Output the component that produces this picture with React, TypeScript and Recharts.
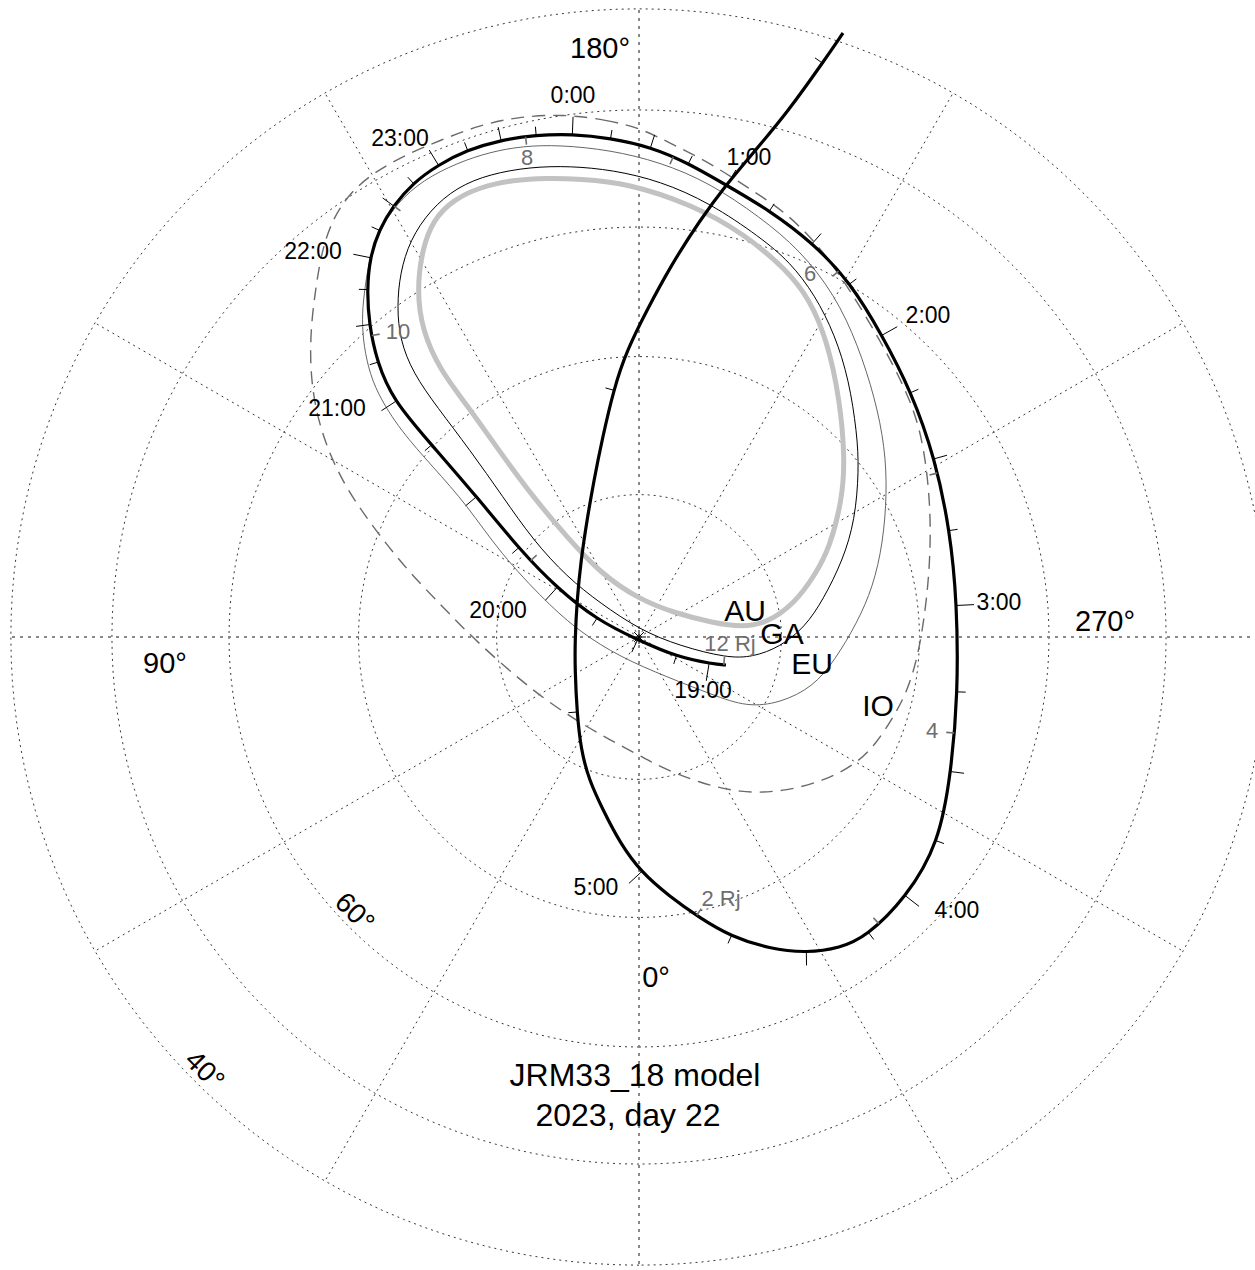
import { Scatter, ScatterChart, XAxis, YAxis } from "recharts";

type Pt = { x: number; y: number };
type TrackPt = Pt & { m?: "q" | "h" | "H" };
type Label = Pt & { text: string };

// plot units: pixels east / north of the pole in the projected frame
const W = 1255;
const H = 1270;
const X_DOMAIN: [number, number] = [-639, 616];
const Y_DOMAIN: [number, number] = [-633, 637];
const FONT = "'Liberation Sans', Arial, Helvetica, sans-serif";

// orthographic graticule
const SPHERE_R = 820;
const latCircles = [80, 70, 60, 50, 40];
const meridians = [0, 30, 60, 90, 120, 150, 180, 210, 240, 270, 300, 330];

// Juno footprint, 18:56 -> 5:47 (m: q = 15 min, h = 30 min, H = hour)
const track: TrackPt[] = [
  { x: 87, y: -28 },
  { x: 74, y: -27, m: "H" },
  { x: 38, y: -20, m: "q" },
  { x: -1, y: -3, m: "h" },
  { x: -42, y: 17, m: "q" },
  { x: -82, y: 49, m: "H" },
  { x: -119, y: 87, m: "q" },
  { x: -162, y: 140, m: "h" },
  { x: -209, y: 194, m: "q" },
  { x: -246, y: 237, m: "H" },
  { x: -262, y: 275, m: "q" },
  { x: -270, y: 313, m: "h" },
  { x: -272, y: 348, m: "q" },
  { x: -269, y: 380, m: "H" },
  { x: -260, y: 407, m: "q" },
  { x: -246, y: 431, m: "h" },
  { x: -226, y: 454, m: "q" },
  { x: -201, y: 472, m: "H" },
  { x: -172, y: 487, m: "q" },
  { x: -138, y: 497, m: "h" },
  { x: -103, y: 502, m: "q" },
  { x: -67, y: 503, m: "H" },
  { x: -29, y: 499, m: "q" },
  { x: 12, y: 490, m: "h" },
  { x: 49, y: 474, m: "q" },
  { x: 87, y: 452, m: "H" },
  { x: 130, y: 427, m: "q" },
  { x: 174, y: 394, m: "h" },
  { x: 211, y: 355, m: "q" },
  { x: 243, y: 302, m: "H" },
  { x: 272, y: 246, m: "q" },
  { x: 296, y: 179, m: "h" },
  { x: 311, y: 106, m: "q" },
  { x: 318, y: 35, m: "H" },
  { x: 319, y: -57, m: "q" },
  { x: 312, y: -136, m: "h" },
  { x: 300, y: -206, m: "q" },
  { x: 267, y: -261, m: "H" },
  { x: 227, y: -300, m: "q" },
  { x: 201, y: -311 },
  { x: 168, y: -316, m: "h" },
  { x: 131, y: -312 },
  { x: 91, y: -299, m: "q" },
  { x: 61, y: -281 },
  { x: 30, y: -259 },
  { x: 2, y: -235, m: "H" },
  { x: -19, y: -206 },
  { x: -36, y: -173 },
  { x: -50, y: -143 },
  { x: -58, y: -113 },
  { x: -62, y: -76, m: "q" },
  { x: -64, y: -33 },
  { x: -64, y: -3 },
  { x: -62, y: 37 },
  { x: -58, y: 77 },
  { x: -52, y: 117 },
  { x: -45, y: 157 },
  { x: -37, y: 197 },
  { x: -25, y: 249, m: "q" },
  { x: -12, y: 287 },
  { x: 8, y: 327 },
  { x: 31, y: 370 },
  { x: 61, y: 417 },
  { x: 87, y: 452 },
  { x: 114, y: 484 },
  { x: 148, y: 524 },
  { x: 187, y: 579, m: "q" },
  { x: 204, y: 604 },
];

// radial distance marks along the track (12 Rj .. 2 Rj)
const rjMarks: Pt[] = [
  { x: 87, y: -28 },
  { x: -104, y: 80 },
  { x: -269, y: 300 },
  { x: -245, y: 432 },
  { x: -115, y: 501 },
  { x: 36, y: 480 },
  { x: 201, y: 367 },
  { x: 299, y: 167 },
  { x: 316, y: -96 },
  { x: 241, y: -285 },
  { x: 58, y: -280 },
];

// moon footprint ovals
const auroraOval: Pt[] = [
  { x: -92, y: 459 }, { x: -59, y: 458 }, { x: -12, y: 454 }, { x: 54, y: 432 },
  { x: 104, y: 404 }, { x: 148, y: 367 }, { x: 171, y: 337 }, { x: 188, y: 297 },
  { x: 201, y: 237 }, { x: 206, y: 177 }, { x: 203, y: 137 }, { x: 191, y: 90 },
  { x: 176, y: 62 }, { x: 156, y: 34 }, { x: 128, y: 14 }, { x: 104, y: 10 },
  { x: 74, y: 14 }, { x: 36, y: 24 }, { x: 1, y: 37 }, { x: -39, y: 64 },
  { x: -72, y: 100 }, { x: -106, y: 140 }, { x: -139, y: 185 }, { x: -172, y: 232 },
  { x: -199, y: 267 }, { x: -217, y: 307 }, { x: -222, y: 347 }, { x: -217, y: 387 },
  { x: -206, y: 417 }, { x: -186, y: 437 }, { x: -159, y: 450 }, { x: -126, y: 457 },
];

const ganymedeOval: Pt[] = [
  { x: -69, y: 471 }, { x: -26, y: 467 }, { x: 21, y: 456 }, { x: 71, y: 434 },
  { x: 121, y: 400 }, { x: 151, y: 375 }, { x: 176, y: 342 }, { x: 196, y: 302 },
  { x: 210, y: 257 }, { x: 218, y: 204 }, { x: 220, y: 167 }, { x: 216, y: 117 },
  { x: 204, y: 77 }, { x: 184, y: 37 }, { x: 166, y: 10 }, { x: 141, y: -10 },
  { x: 114, y: -20 }, { x: 88, y: -21 }, { x: 41, y: -9 }, { x: 1, y: 7 },
  { x: -39, y: 34 }, { x: -72, y: 60 }, { x: -106, y: 97 }, { x: -136, y: 140 },
  { x: -169, y: 187 }, { x: -202, y: 230 }, { x: -226, y: 264 }, { x: -239, y: 297 },
  { x: -242, y: 330 }, { x: -239, y: 364 }, { x: -229, y: 397 }, { x: -209, y: 427 },
  { x: -182, y: 450 }, { x: -149, y: 463 }, { x: -109, y: 470 },
];

const europaOval: Pt[] = [
  { x: -79, y: 492 }, { x: -29, y: 487 }, { x: 21, y: 475 }, { x: 71, y: 454 },
  { x: 121, y: 420 }, { x: 161, y: 387 }, { x: 196, y: 342 }, { x: 219, y: 292 },
  { x: 236, y: 239 }, { x: 246, y: 190 }, { x: 248, y: 144 }, { x: 244, y: 94 },
  { x: 234, y: 50 }, { x: 218, y: 14 }, { x: 196, y: -23 }, { x: 174, y: -50 },
  { x: 141, y: -66 }, { x: 108, y: -70 }, { x: 74, y: -58 }, { x: 28, y: -40 },
  { x: -19, y: -20 }, { x: -59, y: 5 }, { x: -92, y: 34 }, { x: -139, y: 84 },
  { x: -172, y: 132 }, { x: -206, y: 170 }, { x: -239, y: 207 }, { x: -262, y: 244 },
  { x: -271, y: 270 }, { x: -276, y: 297 }, { x: -277, y: 324 }, { x: -274, y: 350 },
  { x: -269, y: 382 }, { x: -258, y: 409 }, { x: -242, y: 434 }, { x: -216, y: 457 },
  { x: -182, y: 474 }, { x: -149, y: 485 }, { x: -116, y: 491 },
];

const ioOval: Pt[] = [
  { x: -76, y: 523 }, { x: -32, y: 517 }, { x: 1, y: 509 }, { x: 31, y: 494 },
  { x: 71, y: 474 }, { x: 108, y: 450 }, { x: 148, y: 424 }, { x: 181, y: 390 },
  { x: 211, y: 347 }, { x: 241, y: 297 }, { x: 266, y: 249 }, { x: 281, y: 210 },
  { x: 289, y: 160 }, { x: 292, y: 110 }, { x: 290, y: 60 }, { x: 285, y: 17 },
  { x: 279, y: -18 }, { x: 269, y: -53 }, { x: 254, y: -81 }, { x: 236, y: -108 },
  { x: 218, y: -126 }, { x: 188, y: -143 }, { x: 144, y: -155 }, { x: 101, y: -156 },
  { x: 61, y: -146 }, { x: 21, y: -130 }, { x: 0, y: -118 }, { x: -37, y: -99 },
  { x: -91, y: -66 }, { x: -141, y: -24 }, { x: -174, y: 7 }, { x: -199, y: 33 },
  { x: -231, y: 66 }, { x: -263, y: 106 }, { x: -292, y: 147 }, { x: -312, y: 188 },
  { x: -324, y: 229 }, { x: -329, y: 270 }, { x: -328, y: 312 }, { x: -323, y: 351 },
  { x: -317, y: 387 }, { x: -306, y: 419 }, { x: -289, y: 444 }, { x: -266, y: 464 },
  { x: -234, y: 482 }, { x: -198, y: 497 }, { x: -159, y: 512 }, { x: -122, y: 520 },
];

const hourLabels: Label[] = [
  { x: 64, y: -53, text: "19:00" },
  { x: -141, y: 27, text: "20:00" },
  { x: -302, y: 229, text: "21:00" },
  { x: -326, y: 386, text: "22:00" },
  { x: -239, y: 499, text: "23:00" },
  { x: -66, y: 542, text: "0:00" },
  { x: 110, y: 480, text: "1:00" },
  { x: 289, y: 322, text: "2:00" },
  { x: 360, y: 35, text: "3:00" },
  { x: 318, y: -273, text: "4:00" },
  { x: -43, y: -250, text: "5:00" },
];

const rjLabels: Label[] = [
  { x: 91, y: -6, text: "12 Rj" },
  { x: -241, y: 306, text: "10" },
  { x: -112, y: 480, text: "8" },
  { x: 171, y: 364, text: "6" },
  { x: 293, y: -93, text: "4" },
  { x: 82, y: -261, text: "2 Rj" },
];

const moonLabels: Label[] = [
  { x: 106, y: 27, text: "AU" },
  { x: 143, y: 4, text: "GA" },
  { x: 173, y: -26, text: "EU" },
  { x: 239, y: -68, text: "IO" },
];

const lonLabels: Label[] = [
  { x: -39, y: 589, text: "180°" },
  { x: 466, y: 16, text: "270°" },
  { x: 17, y: -340, text: "0°" },
  { x: -474, y: -26, text: "90°" },
];

const latLabels: Label[] = [
  { x: -284, y: -275, text: "60°" },
  { x: -434, y: -433, text: "40°" },
];

const titleLines: Label[] = [
  { x: -4, y: -438, text: "JRM33_18 model" },
  { x: -11, y: -478, text: "2023, day 22" },
];

const pole: Pt[] = [{ x: 0, y: 0 }];

// ---------- derived geometry ----------
const rad = (d: number) => (d * Math.PI) / 180;

const ringPoints = (lat: number): Pt[] => {
  const r = SPHERE_R * Math.cos(rad(lat));
  const pts: Pt[] = [];
  for (let lon = 0; lon <= 360; lon += 2) {
    pts.push({ x: -r * Math.sin(rad(lon)), y: -r * Math.cos(rad(lon)) });
  }
  return pts;
};

const meridianPoints = (lon: number): Pt[] => {
  const r = SPHERE_R * Math.cos(rad(latCircles[latCircles.length - 1]));
  return [
    { x: 0, y: 0 },
    { x: -r * Math.sin(rad(lon)), y: -r * Math.cos(rad(lon)) },
  ];
};

// sample the uniform cubic B-spline that the "basis" curve draws through the track
const at = (i: number) => track[Math.max(0, Math.min(track.length - 1, i))];
type Sample = Pt & { tx: number; ty: number };
const samples: Sample[] = [];
for (let i = 0; i < track.length; i++) {
  for (let s = 0; s < 10; s++) {
    const t = s / 10;
    const p0 = at(i - 1), p1 = at(i), p2 = at(i + 1), p3 = at(i + 2);
    const b0 = (1 - t) ** 3 / 6;
    const b1 = (3 * t ** 3 - 6 * t ** 2 + 4) / 6;
    const b2 = (-3 * t ** 3 + 3 * t ** 2 + 3 * t + 1) / 6;
    const b3 = t ** 3 / 6;
    const d0 = -((1 - t) ** 2) / 2;
    const d1 = (3 * t ** 2 - 4 * t) / 2;
    const d2 = (-3 * t ** 2 + 2 * t + 1) / 2;
    const d3 = t ** 2 / 2;
    samples.push({
      x: b0 * p0.x + b1 * p1.x + b2 * p2.x + b3 * p3.x,
      y: b0 * p0.y + b1 * p1.y + b2 * p2.y + b3 * p3.y,
      tx: d0 * p0.x + d1 * p1.x + d2 * p2.x + d3 * p3.x,
      ty: d0 * p0.y + d1 * p1.y + d2 * p2.y + d3 * p3.y,
    });
  }
}

// screen-space left normal from a data-space tangent
const leftNormal = (tx: number, ty: number) => {
  const dx = tx;
  const dy = -ty;
  const len = Math.hypot(dx, dy) || 1;
  return { nx: dy / len, ny: -dx / len };
};

const timeTicks = track
  .map((p, i) => {
    const s = samples[i * 10];
    return { x: s.x, y: s.y, m: p.m, ...leftNormal(s.tx, s.ty) };
  })
  .filter((p) => p.m);

const rjTicks = rjMarks.map((p) => {
  let best = samples[0];
  let bestD = Infinity;
  for (const s of samples) {
    const d = (s.x - p.x) ** 2 + (s.y - p.y) ** 2;
    if (d < bestD) {
      bestD = d;
      best = s;
    }
  }
  return { x: best.x, y: best.y, ...leftNormal(best.tx, best.ty) };
});

const TICK_LEN = { q: 9, h: 14, H: 18 };

const Empty = () => <g />;

const TimeTick = (props: any) => {
  const { cx, cy, payload } = props;
  const len = TICK_LEN[payload.m as "q" | "h" | "H"];
  return (
    <line
      x1={cx}
      y1={cy}
      x2={cx + len * payload.nx}
      y2={cy + len * payload.ny}
      stroke="#000"
      strokeWidth={1}
    />
  );
};

const RjTick = (props: any) => {
  const { cx, cy, payload } = props;
  return (
    <line
      x1={cx}
      y1={cy}
      x2={cx - 8 * payload.nx}
      y2={cy - 8 * payload.ny}
      stroke="#6e6e6e"
      strokeWidth={1.6}
    />
  );
};

const PoleMark = (props: any) => {
  const { cx, cy } = props;
  const arms = [0, 45, 90, 135].map((a) => {
    const dx = 7 * Math.cos(rad(a));
    const dy = 7 * Math.sin(rad(a));
    return (
      <line key={a} x1={cx - dx} y1={cy - dy} x2={cx + dx} y2={cy + dy} stroke="#000" strokeWidth={1} />
    );
  });
  return <g>{arms}</g>;
};

const makeText =
  (size: number, color: string, rotate = 0) =>
  (props: any) => {
    const { cx, cy, payload } = props;
    return (
      <text
        x={cx}
        y={cy}
        textAnchor="middle"
        dominantBaseline="central"
        fontFamily={FONT}
        fontSize={size}
        fill={color}
        transform={rotate ? `rotate(${rotate} ${cx} ${cy})` : undefined}
      >
        {payload.text}
      </text>
    );
  };

const gridMinor = { stroke: "#222", strokeWidth: 0.9, strokeDasharray: "2 4" };
const gridMain = { stroke: "#888", strokeWidth: 2, strokeDasharray: "3 5" };

export default function App() {
  return (
    <div style={{ position: "absolute", left: 0, top: 0, background: "#fff" }}>
      <ScatterChart width={W} height={H} margin={{ top: 0, right: 0, bottom: 0, left: 0 }}>
        <XAxis type="number" dataKey="x" domain={X_DOMAIN} allowDataOverflow hide />
        <YAxis type="number" dataKey="y" domain={Y_DOMAIN} allowDataOverflow hide />

        {latCircles.map((lat) => (
          <Scatter
            key={`lat${lat}`}
            data={ringPoints(lat)}
            line={gridMinor}
            shape={Empty}
            isAnimationActive={false}
          />
        ))}
        {meridians.map((lon) => (
          <Scatter
            key={`lon${lon}`}
            data={meridianPoints(lon)}
            line={lon % 90 === 0 ? gridMain : gridMinor}
            shape={Empty}
            isAnimationActive={false}
          />
        ))}

        <Scatter
          data={ioOval}
          line={{ stroke: "#6a6a6a", strokeWidth: 1.4, strokeDasharray: "13 8" }}
          lineJointType="basisClosed"
          shape={Empty}
          isAnimationActive={false}
        />
        <Scatter
          data={europaOval}
          line={{ stroke: "#666", strokeWidth: 1 }}
          lineJointType="basisClosed"
          shape={Empty}
          isAnimationActive={false}
        />
        <Scatter
          data={auroraOval}
          line={{ stroke: "#c2c2c2", strokeWidth: 5 }}
          lineJointType="basisClosed"
          shape={Empty}
          isAnimationActive={false}
        />
        <Scatter
          data={ganymedeOval}
          line={{ stroke: "#000", strokeWidth: 1 }}
          lineJointType="basisClosed"
          shape={Empty}
          isAnimationActive={false}
        />

        <Scatter data={pole} shape={PoleMark} isAnimationActive={false} />

        <Scatter
          data={track}
          line={{ stroke: "#000", strokeWidth: 3.2 }}
          lineJointType="basis"
          shape={Empty}
          isAnimationActive={false}
        />
        <Scatter data={timeTicks} shape={TimeTick} isAnimationActive={false} />
        <Scatter data={rjTicks} shape={RjTick} isAnimationActive={false} />

        <Scatter data={hourLabels} shape={makeText(23, "#000")} isAnimationActive={false} />
        <Scatter data={rjLabels} shape={makeText(22, "#6e6e6e")} isAnimationActive={false} />
        <Scatter data={moonLabels} shape={makeText(30, "#000")} isAnimationActive={false} />
        <Scatter data={lonLabels} shape={makeText(29, "#000")} isAnimationActive={false} />
        <Scatter data={latLabels} shape={makeText(28, "#000", 45)} isAnimationActive={false} />
        <Scatter data={titleLines} shape={makeText(32, "#000")} isAnimationActive={false} />
      </ScatterChart>
    </div>
  );
}
